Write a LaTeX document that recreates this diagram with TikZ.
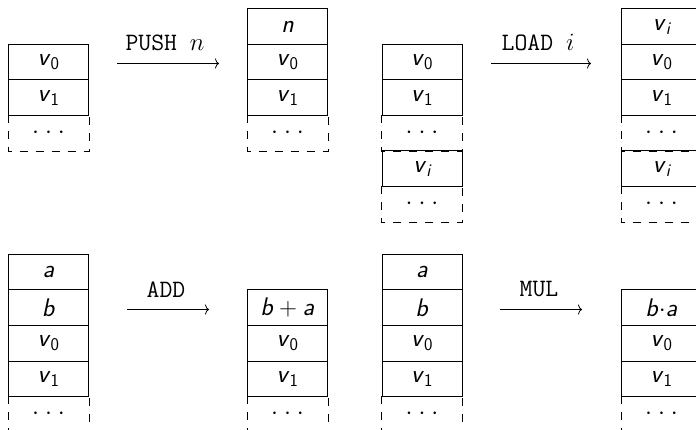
\documentclass[tikz,border=0pt]{standalone}
\usetikzlibrary{arrows.meta}
\newcommand\cv[1]{\textit{v}\textsubscript{#1}}
\newcommand\cvi{\textit{v}\textsubscript{\itshape i}}
\newcommand\tdots{$\cdot$\hspace{6pt}$\cdot$\hspace{6pt}$\cdot$}
\tikzset{
  cell/.style={draw, line width=1pt, minimum width=80pt, minimum height=35.5pt,
    inner sep=0pt, anchor=north west, font=\fontsize{25.5}{30}\selectfont\sffamily},
  dcell/.style={cell, draw=none},
  dashbox/.style={line width=1pt, dash pattern=on 8pt off 8pt},
  oparrow/.style={-{To[length=4pt,width=10pt]}, line width=0.8pt},
  oplabel/.style={above=12pt, inner sep=0pt, font=\fontsize{25}{30}\selectfont\ttfamily}
}
\newcommand\dashedcell[1]{\draw[dashbox] (#1.north west) -- (#1.south west) -- (#1.south east) -- (#1.north east);}
\begin{document}
\begin{tikzpicture}[x=1pt,y=-1pt]
\useasboundingbox (0,0) rectangle (696,430);
\clip (0,0) rectangle (696,430);
% ---- Row 1: PUSH
\node[cell] (A0) at (8,44) {\cv{0}};
\node[cell] (A1) at (8,79.5) {\cv{1}};
\node[dcell] (A2) at (8,115) {\tdots};
\dashedcell{A2}
\node[cell] (B0) at (247,8.5) {\textit{n}};
\node[cell] (B1) at (247,44) {\cv{0}};
\node[cell] (B2) at (247,79.5) {\cv{1}};
\node[dcell] (B3) at (247,115) {\tdots};
\dashedcell{B3}
\coordinate (p1) at (117,63.5);
\coordinate (p2) at (219,63.5);
\draw[oparrow] (p1) -- node[oplabel, xshift=-3pt] {PUSH~$n$} (p2);
% ---- Row 1: LOAD
\node[cell] (C0) at (381.5,44) {\cv{0}};
\node[cell] (C1) at (381.5,79.5) {\cv{1}};
\node[dcell] (C2) at (381.5,115) {\tdots};
\dashedcell{C2}
\node[cell] (C3) at (381.5,150.5) {\cvi};
\node[dcell] (C4) at (381.5,186) {\tdots};
\dashedcell{C4}
\node[cell] (D0) at (621,8.5) {\cvi};
\node[cell] (D1) at (621,44) {\cv{0}};
\node[cell] (D2) at (621,79.5) {\cv{1}};
\node[dcell] (D3) at (621,115) {\tdots};
\dashedcell{D3}
\node[cell] (D4) at (621,150.5) {\cvi};
\node[dcell] (D5) at (621,186) {\tdots};
\dashedcell{D5}
\coordinate (l1) at (491,63.5);
\coordinate (l2) at (591,63.5);
\draw[oparrow] (l1) -- node[oplabel, xshift=-3pt] {LOAD~$i$} (l2);
% ---- Row 2: ADD
\node[cell] (E0) at (8,254) {\textit{a}};
\node[cell] (E1) at (8,289.5) {\textit{b}};
\node[cell] (E2) at (8,325) {\cv{0}};
\node[cell] (E3) at (8,360.5) {\cv{1}};
\node[dcell] (E4) at (8,396) {\tdots};
\dashedcell{E4}
\node[cell] (F0) at (247,289.5) {\textit{b}${}+{}$\textit{a}};
\node[cell] (F1) at (247,325) {\cv{0}};
\node[cell] (F2) at (247,360.5) {\cv{1}};
\node[dcell] (F3) at (247,396) {\tdots};
\dashedcell{F3}
\coordinate (a1) at (127,309.5);
\coordinate (a2) at (209,309.5);
\draw[oparrow] (a1) -- node[oplabel, xshift=-2pt] {ADD} (a2);
% ---- Row 2: MUL
\node[cell] (G0) at (381.5,254) {\textit{a}};
\node[cell] (G1) at (381.5,289.5) {\textit{b}};
\node[cell] (G2) at (381.5,325) {\cv{0}};
\node[cell] (G3) at (381.5,360.5) {\cv{1}};
\node[dcell] (G4) at (381.5,396) {\tdots};
\dashedcell{G4}
\node[cell] (H0) at (621,289.5) {\textit{b}$\cdot$\textit{a}};
\node[cell] (H1) at (621,325) {\cv{0}};
\node[cell] (H2) at (621,360.5) {\cv{1}};
\node[dcell] (H3) at (621,396) {\tdots};
\dashedcell{H3}
\coordinate (m1) at (500,309.5);
\coordinate (m2) at (582,309.5);
\draw[oparrow] (m1) -- node[oplabel, xshift=-2pt] {MUL} (m2);
\end{tikzpicture}
\end{document}
